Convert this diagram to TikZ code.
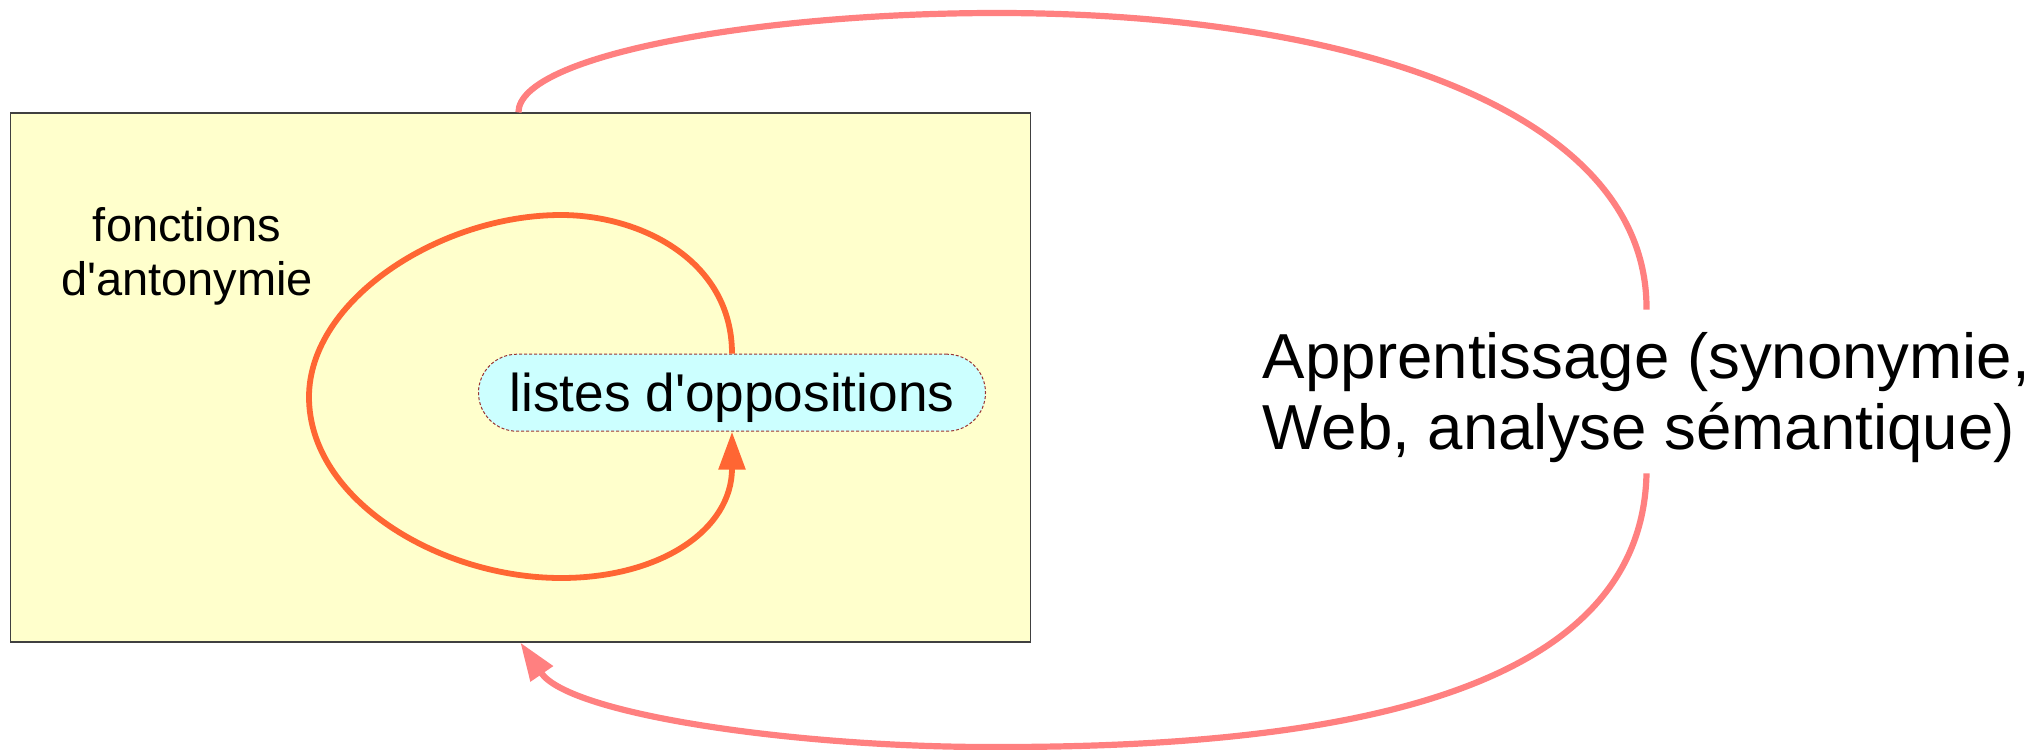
\documentclass[tikz,border=0pt]{standalone}
\usepackage{fontspec}
\setmainfont{Liberation Sans}[Ligatures=TeXOff]
\usetikzlibrary{arrows.meta}
\definecolor{boxyellow}{HTML}{FFFFCC}
\definecolor{pillcyan}{HTML}{CCFFFF}
\definecolor{loopor}{HTML}{FF6633}
\definecolor{learnpink}{HTML}{FF8080}
\definecolor{pillborder}{HTML}{993333}
\definecolor{boxborder}{HTML}{404040}
\begin{document}
\begin{tikzpicture}[x=0.5pt,y=-0.5pt,
  bigbox/.style={draw=boxborder, line width=0.6pt, fill=boxyellow,
    minimum width=510.1pt, minimum height=264.5pt, inner sep=0pt},
  pill/.style={draw=pillborder, line width=0.5pt, dash pattern=on 1.5pt off 1pt,
    fill=pillcyan, rounded corners=19.25pt, minimum width=253.5pt, inner sep=0pt,
    text height=28.4pt, text depth=10.1pt, font=\fontsize{26.6pt}{32pt}\selectfont},
  sidelabel/.style={align=center, inner sep=0pt, font=\fontsize{23.5pt}{26.7pt}\selectfont},
  learnlabel/.style={align=left, inner sep=0pt, font=\fontsize{31.8pt}{35.5pt}\selectfont},
  loopline/.style={draw=loopor, line width=2.9pt, -{Triangle[length=19pt,width=13pt]}},
  pinkline/.style={draw=learnpink, line width=3.1pt},
  pinkarrow/.style={pinkline, -{Triangle[length=19pt,width=13pt]}}
]
\useasboundingbox (0,0) rectangle (2043,749);
\node[bigbox] (box) at (520.5,377.5) {};
\node[sidelabel] (fa) at (187,256.4) {fonctions\\d'antonymie};
\node[pill] (pill) at (732,392.7) {listes d'oppositions};
\node[learnlabel] (appr) at (1646.5,391.5)
  {\rule{0pt}{34pt}Apprentissage (synonymie,\\Web, analyse sémantique)\rule[-12pt]{0pt}{1pt}};
\draw[loopline] (pill.north) .. controls (732,260) and (640,215) .. (561,215)
  .. controls (440,215) and (309,300) .. (309,397)
  .. controls (309,500) and (440,578) .. (561,578)
  .. controls (660,578) and (732,530) .. (pill.south);
\draw[pinkline] ([xshift=254.3pt]box.north west) .. controls (519,55) and (760,13) .. (997,13)
  .. controls (1350,13) and (1648,110) .. (appr.north);
\draw[pinkarrow] (appr.south) .. controls (1642,690) and (1350,747) .. (1000,747)
  .. controls (800,748) and (570,715) .. ([xshift=255.3pt]box.south west);
\end{tikzpicture}
\end{document}
